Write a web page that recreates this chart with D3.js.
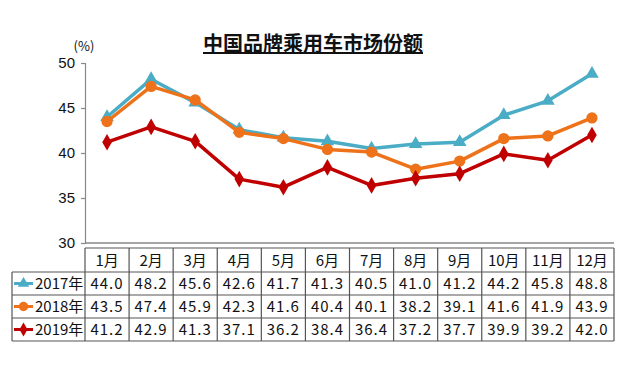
<!DOCTYPE html>
<html lang="zh">
<head>
<meta charset="UTF-8">
<title>中国品牌乘用车市场份额</title>
<script src="https://cdn.jsdelivr.net/npm/d3@7"></script>
<style>
  body { margin: 0; background: #fff; }
  svg { display: block; font-family: "Noto Sans CJK SC", "Noto Sans", sans-serif; }
</style>
</head>
<body>
<script>
  const months = ["1月", "2月", "3月", "4月", "5月", "6月", "7月", "8月", "9月", "10月", "11月", "12月"];
  const years = ["2017年", "2018年", "2019年"];
  const v2017 = [44.0, 48.2, 45.6, 42.6, 41.7, 41.3, 40.5, 41.0, 41.2, 44.2, 45.8, 48.8];
  const v2018 = [43.5, 47.4, 45.9, 42.3, 41.6, 40.4, 40.1, 38.2, 39.1, 41.6, 41.9, 43.9];
  const v2019 = [41.2, 42.9, 41.3, 37.1, 36.2, 38.4, 36.4, 37.2, 37.7, 39.9, 39.2, 42.0];
  const yTicks = [30, 35, 40, 45, 50];

  const series = [
    { name: years[0], values: v2017, color: "#4bacc6", symbol: d3.symbolTriangle, size: 80 },
    { name: years[1], values: v2018, color: "#ee7219", symbol: d3.symbolCircle, size: 100 },
    { name: years[2], values: v2019, color: "#c00000", symbol: d3.symbolDiamond, size: 80 }
  ];

  const width = 640, height = 366;
  const plotL = 85, plotR = 614, plotT = 63, plotB = 243;

  const svg = d3.select("body").append("svg")
    .attr("width", width)
    .attr("height", height);

  const x = d3.scaleBand().domain(months).range([plotL, plotR]);
  const y = d3.scaleLinear().domain([30, 50]).range([plotB, plotT]);

  // title
  svg.append("text")
    .attr("x", 313)
    .attr("y", 51)
    .attr("text-anchor", "middle")
    .style("font-size", "20px")
    .style("font-weight", "bold")
    .style("text-decoration", "underline")
    .attr("fill", "#111")
    .text("中国品牌乘用车市场份额");

  svg.append("text")
    .attr("x", 84)
    .attr("y", 51)
    .attr("text-anchor", "middle")
    .style("font-size", "13px")
    .attr("fill", "#111")
    .text("(%)");

  // y axis
  const yAxis = svg.append("g")
    .attr("transform", `translate(${plotL},0)`)
    .call(d3.axisLeft(y).tickValues(yTicks).tickSize(4).tickPadding(6));
  yAxis.selectAll("path, line").attr("stroke", "#888").attr("stroke-width", 1.2);
  yAxis.selectAll("text")
    .style("font-family", "Liberation Sans, Arial, sans-serif")
    .style("font-size", "15px")
    .attr("fill", "#111");

  // x axis line
  svg.append("line")
    .attr("x1", plotL).attr("x2", plotR)
    .attr("y1", plotB).attr("y2", plotB)
    .attr("stroke", "#888").attr("stroke-width", 1.5);

  // lines
  const line = d3.line()
    .x((d, i) => x(months[i]) + x.bandwidth() / 2)
    .y(d => y(d));

  series.forEach(s => {
    svg.append("path")
      .datum(s.values)
      .attr("fill", "none")
      .attr("stroke", s.color)
      .attr("stroke-width", 3.5)
      .attr("stroke-linejoin", "round")
      .attr("d", line);

    svg.append("g")
      .selectAll("path")
      .data(s.values)
      .join("path")
      .attr("transform", (d, i) => `translate(${x(months[i]) + x.bandwidth() / 2},${y(d)})`)
      .attr("d", d3.symbol().type(s.symbol).size(s.size))
      .attr("fill", s.color);
  });

  // data table
  const headTop = 248, headH = 24, rowH = 23, legLeft = 12;
  const border = "#555";
  const t = svg.append("g");

  t.append("line")
    .attr("x1", plotL).attr("x2", plotR)
    .attr("y1", headTop).attr("y2", headTop)
    .attr("stroke", border).attr("stroke-width", 1.2);

  t.selectAll(".mh")
    .data(months)
    .join("text")
    .attr("x", d => x(d) + x.bandwidth() / 2)
    .attr("y", headTop + headH / 2 + 5.5)
    .attr("text-anchor", "middle")
    .style("font-size", "15px")
    .attr("fill", "#111")
    .text(d => d);

  const rowsTop = headTop + headH;
  const rowsBottom = rowsTop + rowH * series.length;

  d3.range(series.length + 1).forEach(i => {
    t.append("line")
      .attr("x1", legLeft).attr("x2", plotR)
      .attr("y1", rowsTop + i * rowH).attr("y2", rowsTop + i * rowH)
      .attr("stroke", border).attr("stroke-width", 1.2);
  });

  t.append("line")
    .attr("x1", legLeft).attr("x2", legLeft)
    .attr("y1", rowsTop).attr("y2", rowsBottom)
    .attr("stroke", border).attr("stroke-width", 1.2);
  months.forEach(m => {
    t.append("line")
      .attr("x1", x(m)).attr("x2", x(m))
      .attr("y1", headTop).attr("y2", rowsBottom)
      .attr("stroke", border).attr("stroke-width", 1.2);
  });
  t.append("line")
    .attr("x1", plotR).attr("x2", plotR)
    .attr("y1", headTop).attr("y2", rowsBottom)
    .attr("stroke", border).attr("stroke-width", 1.2);

  series.forEach((s, r) => {
    const cy = rowsTop + r * rowH + rowH / 2;
    t.append("line")
      .attr("x1", 14).attr("x2", 33)
      .attr("y1", cy).attr("y2", cy)
      .attr("stroke", s.color).attr("stroke-width", 3);
    t.append("path")
      .attr("transform", `translate(23.5,${cy})`)
      .attr("d", d3.symbol().type(s.symbol).size(s.size * 0.7))
      .attr("fill", s.color);
    t.append("text")
      .attr("x", 35)
      .attr("y", cy + 5.5)
      .style("font-size", "15px")
      .attr("fill", "#111")
      .text(s.name);

    t.selectAll(null)
      .data(s.values)
      .join("text")
      .attr("x", (d, i) => x(months[i]) + x.bandwidth() / 2)
      .attr("y", cy + 5.5)
      .attr("text-anchor", "middle")
      .style("font-size", "15px")
      .style("letter-spacing", "1px")
      .attr("fill", "#111")
      .text(d => d.toFixed(1));
  });
</script>
</body>
</html>
